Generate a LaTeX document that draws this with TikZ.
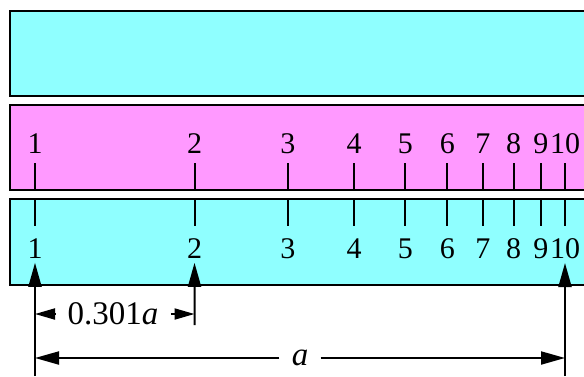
\documentclass[tikz,border=0pt]{standalone}
\usepackage{fontspec}
\setmainfont{Liberation Serif}
\usetikzlibrary{arrows.meta}
\definecolor{rulecyan}{RGB}{143,255,255}
\definecolor{rulepink}{RGB}{255,153,255}
\tikzset{
  strip/.style={draw, line width=1.25pt},
  tickmark/.style={line width=1pt},
  scalenum/.style={font=\fontsize{15}{17}\selectfont, inner sep=2pt},
  dimlabel/.style={font=\fontsize{16.5}{19}\selectfont},
  bigtip/.style={line width=1pt, -{Triangle[length=12pt,width=6.5pt]}},
  smalltip/.style={line width=1pt, -{Triangle[length=10pt,width=5.5pt]}},
}
\begin{document}
\begin{tikzpicture}[x=0.5pt,y=-0.5pt]
\useasboundingbox (0,0) rectangle (584,376);
\clip (0,0) rectangle (584,376);

% the three strips
\draw[strip, fill=rulecyan] (10,11) rectangle (620,96);
\draw[strip, fill=rulepink] (10,105) rectangle (620,190);
\draw[strip, fill=rulecyan] (10,199) rectangle (620,285);

% log ticks
\foreach \n in {1,...,10} {
  \pgfmathsetmacro\xx{35+530*ln(\n)/ln(10)}
  \draw[tickmark] (\xx,163) -- (\xx,190);
  \draw[tickmark] (\xx,199) -- (\xx,226);
  \node[scalenum] (top\n) at (\xx,143.5) {\n};
  \node[scalenum] (bot\n) at (\xx,248.5) {\n};
}

% pointers from below
\coordinate (foot1) at (35,376);
\coordinate (foot2) at (194.5,325);
\coordinate (foot10) at (565,376);
\draw[bigtip] (foot1) -- (bot1.south);
\draw[bigtip] (foot2) -- (bot2.south);
\draw[bigtip] (foot10) -- (bot10.south);

% dimensions
\node[dimlabel, inner xsep=6pt] (frac) at (113,314) {0.301\textit{a}};
\coordinate (fracl) at (35,314);
\coordinate (fracr) at (194.5,314);
\draw[smalltip] (frac.west) -- (fracl);
\draw[smalltip] (frac.east) -- (fracr);

\node[dimlabel, inner xsep=6pt] (full) at (300,358) {\textit{a}};
\coordinate (fulll) at (35,358);
\coordinate (fullr) at (565,358);
\draw[bigtip] (full.west) -- (fulll);
\draw[bigtip] (full.east) -- (fullr);
\end{tikzpicture}
\end{document}
